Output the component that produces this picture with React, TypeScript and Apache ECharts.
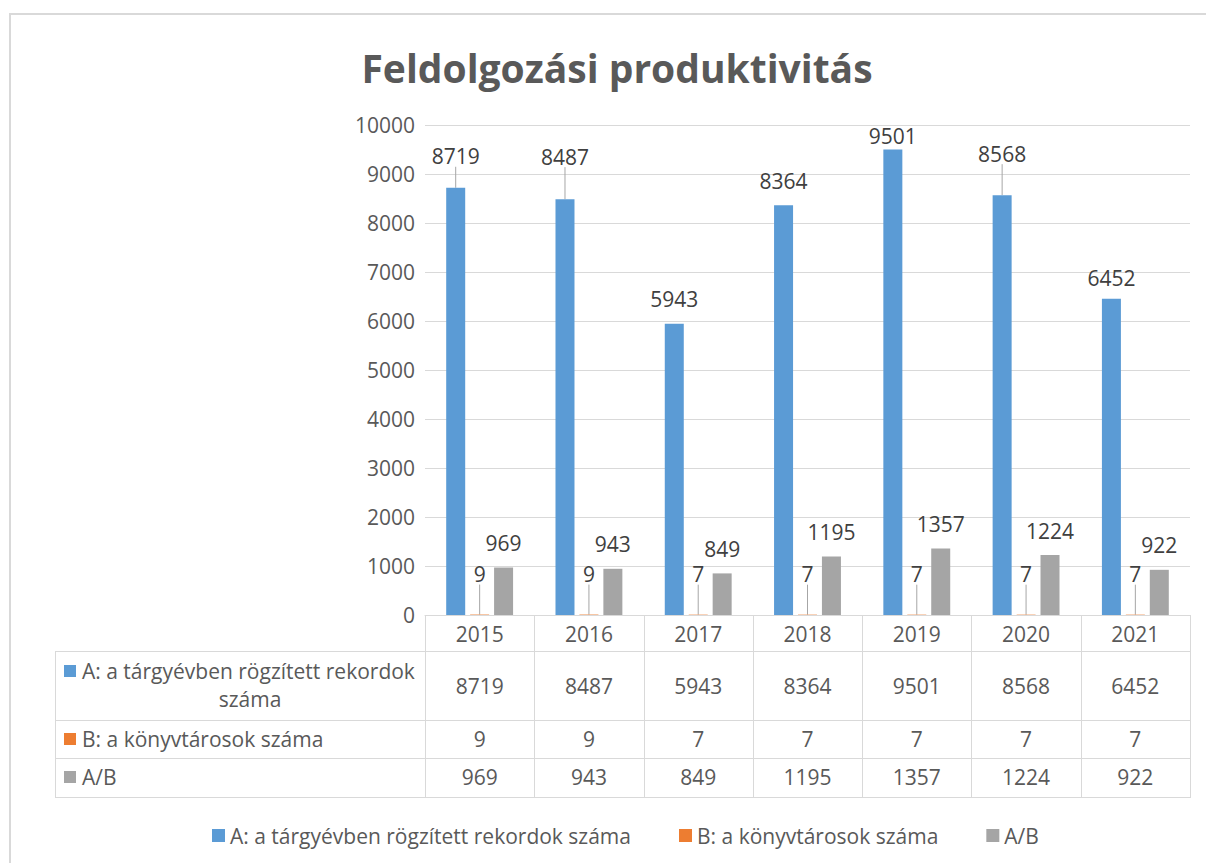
import React, { useEffect, useRef } from "react";
import * as echarts from "echarts";

const chartTitle = "Feldolgozási produktivitás";
const years = ["2015", "2016", "2017", "2018", "2019", "2020", "2021"];
const seriesNames = [
  "A: a tárgyévben rögzített rekordok száma",
  "B: a könyvtárosok száma",
  "A/B",
];
const recordsA = [8719, 8487, 5943, 8364, 9501, 8568, 6452];
const librariansB = [9, 9, 7, 7, 7, 7, 7];
const ratioAB = [969, 943, 849, 1195, 1357, 1224, 922];
const yMin = 0;
const yMax = 10000;
const yInterval = 1000;

const colors = ["#5B9BD5", "#ED7D31", "#A5A5A5"];
// label placement tweaks (style only)
const labelShiftA = [-7, -18, 0, 0, 11, -17, 4];
const leaderA = [true, true, false, false, false, true, false];

const W = 1206;
const H = 863;
const GRID_LEFT = 425;
const GRID_WIDTH = 765;
const GRID_TOP = 125;
const GRID_HEIGHT = 490;
const TABLE_LEFT = 55;
const ROW_LINES = [615, 651, 720, 758, 797];
const FONT = "Open Sans";
const FS = 21;
const TXT = "#595959";
const LINE = "#D9D9D9";

function buildGraphics() {
  const els: any[] = [];
  const catW = GRID_WIDTH / years.length;
  const right = GRID_LEFT + GRID_WIDTH;
  els.push({
    type: "rect",
    silent: true,
    z: -1,
    shape: { x: 10, y: 14, width: 1400, height: 1000 },
    style: { fill: "none", stroke: LINE, lineWidth: 2 },
  });
  ROW_LINES.slice(1).forEach((y) => {
    els.push({
      type: "line",
      silent: true,
      shape: { x1: TABLE_LEFT, y1: y + 0.5, x2: right, y2: y + 0.5 },
      style: { stroke: LINE, lineWidth: 1 },
    });
  });
  els.push({
    type: "line",
    silent: true,
    shape: { x1: TABLE_LEFT + 0.5, y1: ROW_LINES[1], x2: TABLE_LEFT + 0.5, y2: ROW_LINES[4] + 1 },
    style: { stroke: LINE, lineWidth: 1 },
  });
  for (let i = 0; i <= years.length; i++) {
    const x = Math.round(GRID_LEFT + i * catW) + 0.5;
    els.push({
      type: "line",
      silent: true,
      shape: { x1: x, y1: ROW_LINES[0], x2: x, y2: ROW_LINES[4] + 1 },
      style: { stroke: LINE, lineWidth: 1 },
    });
  }
  const rowCenters = [686, 739, 777];
  const rows = [recordsA, librariansB, ratioAB];
  rows.forEach((vals, r) => {
    vals.forEach((v, i) => {
      els.push({
        type: "text",
        silent: true,
        x: GRID_LEFT + (i + 0.5) * catW,
        y: rowCenters[r],
        style: {
          text: String(v),
          fill: TXT,
          font: `${FS}px '${FONT}'`,
          align: "center",
          verticalAlign: "middle",
        },
      });
    });
  });
  // row headers
  const nameA = seriesNames[0];
  const cut = nameA.lastIndexOf(" ");
  const headers = [
    { y: 671, text: nameA.slice(0, cut) },
    { y: 739, text: seriesNames[1] },
    { y: 777, text: seriesNames[2] },
  ];
  headers.forEach((h, r) => {
    els.push({
      type: "rect",
      silent: true,
      shape: { x: 64, y: h.y - 6, width: 12, height: 12 },
      style: { fill: colors[r] },
    });
    els.push({
      type: "text",
      silent: true,
      x: 82,
      y: h.y,
      style: { text: h.text, fill: TXT, font: `${FS}px '${FONT}'`, align: "left", verticalAlign: "middle" },
    });
  });
  els.push({
    type: "text",
    silent: true,
    x: 250,
    y: 699,
    style: { text: nameA.slice(cut + 1), fill: TXT, font: `${FS}px '${FONT}'`, align: "center", verticalAlign: "middle" },
  });
  return els;
}

export default function App() {
  const ref = useRef<HTMLDivElement>(null);
  useEffect(() => {
    document.body.style.margin = "0";
    if (!ref.current) return;
    const chart = echarts.init(ref.current, null, { renderer: "svg" });
    const labelBase = {
      show: true,
      position: "top",
      distance: 14,
      fontSize: FS,
      fontFamily: FONT,
      color: "#404040",
    };
    const labelLine = { show: true, lineStyle: { color: "#A6A6A6", width: 1 } };
    chart.setOption({
      animation: false,
      backgroundColor: "#FFFFFF",
      textStyle: { fontFamily: FONT, color: TXT },
      title: {
        text: chartTitle,
        left: 612,
        top: 43,
        textAlign: "center",
        textStyle: { fontFamily: FONT, fontSize: 39, fontWeight: "bold", color: TXT },
      },
      legend: {
        left: 207,
        top: 820,
        icon: "rect",
        itemWidth: 13,
        itemHeight: 13,
        itemGap: 48,
        textStyle: { fontFamily: FONT, fontSize: FS, color: TXT },
        data: seriesNames,
      },
      grid: { left: GRID_LEFT, top: GRID_TOP, width: GRID_WIDTH, height: GRID_HEIGHT, containLabel: false },
      xAxis: {
        type: "category",
        data: years,
        axisLine: { show: true, lineStyle: { color: LINE } },
        axisTick: { show: false },
        axisLabel: { margin: 8, fontSize: FS, fontFamily: FONT, color: TXT },
      },
      yAxis: {
        type: "value",
        min: yMin,
        max: yMax,
        interval: yInterval,
        axisLine: { show: false },
        axisTick: { show: false },
        splitLine: { lineStyle: { color: LINE, width: 1 } },
        axisLabel: {
          margin: 10,
          fontSize: FS,
          fontFamily: FONT,
          color: TXT,
          formatter: (v: number) => String(v),
        },
      },
      series: [
        {
          name: seriesNames[0],
          type: "bar",
          barWidth: 19,
          barGap: "26%",
          itemStyle: { color: colors[0] },
          data: recordsA.map((v, i) => ({ value: v, labelLine: { show: leaderA[i] } })),
          label: labelBase,
          labelLine,
          labelLayout: (p: any) => ({ dy: labelShiftA[p.dataIndex] }),
        },
        {
          name: seriesNames[1],
          type: "bar",
          barWidth: 19,
          barGap: "26%",
          itemStyle: { color: colors[1] },
          data: librariansB,
          label: labelBase,
          labelLine,
          labelLayout: () => ({ dy: -16 }),
        },
        {
          name: seriesNames[2],
          type: "bar",
          barWidth: 19,
          barGap: "26%",
          itemStyle: { color: colors[2] },
          data: ratioAB,
          label: labelBase,
        },
      ],
      graphic: buildGraphics(),
    });
    return () => chart.dispose();
  }, []);
  return <div ref={ref} style={{ width: W, height: H }} />;
}
